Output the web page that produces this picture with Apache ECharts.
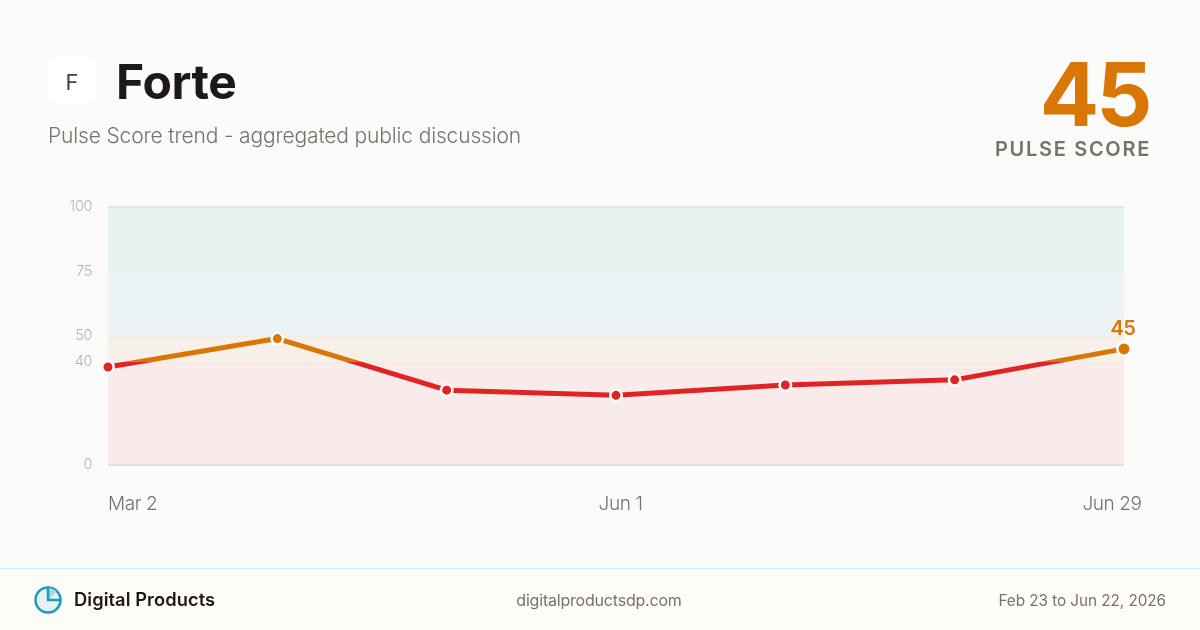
<!DOCTYPE html>
<html><head><meta charset="utf-8">
<style>html,body{margin:0;padding:0;background:#fbfbf9}#c{width:1200px;height:630px}</style>
<script src="https://cdn.jsdelivr.net/npm/echarts@6/dist/echarts.min.js"></script>
</head><body><div id="c"></div>
<script>
const categories = ['Mar 2','','','Jun 1','','','Jun 29'];
const pulseValues = [38,49,29,27,31,33,45];
const yTicks = [0,40,50,75,100];
const bands = [[0,40,'#f9ebe9'],[40,50,'#f7f0e8'],[50,75,'#ebf3f5'],[75,100,'#e6f2ee']];
const gridLines = [[40,'#f3e6e3',1],[50,'#efece6',1],[75,'#e6ecec',1],[100,'#e6e5e1',2],[0,'#e3e1de',2]];
const FONT = 'Inter';
const RED = '#e02424', ORANGE = '#d97706';
// tracking for the few strings the reference sets with letter-spacing
const tracking = {'PULSE SCORE':'1.7px','Pulse Score trend - aggregated public discussion':'-0.15px',
  'Digital Products':'0.07px','Feb 23 to Jun 22, 2026':'-0.05px','digitalproductsdp.com':'-0.2px','Forte':'-0.4px'};
const nativeFill = CanvasRenderingContext2D.prototype.fillText;
CanvasRenderingContext2D.prototype.fillText = function(t,x,y,m){
  const s = (t==='45' && this.font.indexOf('88px')>=0) ? '-3px' : tracking[t];
  if(s){const o=this.letterSpacing;this.letterSpacing=s;nativeFill.call(this,t,x,y);this.letterSpacing=o;}
  else if(m===undefined) nativeFill.call(this,t,x,y); else nativeFill.call(this,t,x,y,m);
};
const chart = echarts.init(document.getElementById('c'), null, {renderer:'canvas', width:1200, height:630});
function txt(text,x,y,size,weight,fill,align){
  return {type:'text',x,y,silent:true,style:{text,fontFamily:FONT,fontSize:size,fontWeight:weight,fill,align:align||'left',verticalAlign:'middle'}};
}
const lineData = pulseValues.map((v,i)=> i===pulseValues.length-1 ? {value:v,symbolSize:13.5} : v);
chart.setOption({
  backgroundColor:'#fbfbf9',
  animation:false,
  grid:{left:108,right:76,top:207,bottom:165},
  xAxis:{type:'category',boundaryGap:false,
    data:[
      {value:categories[0],textStyle:{align:'left'}},categories[1],categories[2],
      {value:categories[3],textStyle:{padding:[0,0,0,9]}},categories[4],categories[5],
      {value:categories[6],textStyle:{padding:[0,24,0,0]}}],
    axisLine:{show:false},axisTick:{show:false},splitLine:{show:false},
    axisLabel:{interval:0,margin:30,fontFamily:FONT,fontSize:19,fontWeight:300,color:'#78716c',showMinLabel:true,showMaxLabel:true}},
  yAxis:{type:'value',min:0,max:100,
    axisLine:{show:false},axisTick:{show:false},splitLine:{show:false},
    axisLabel:{customValues:yTicks,margin:16,fontFamily:FONT,fontSize:14.5,fontWeight:300,color:'#b5b2ae'}},
  visualMap:{show:false,type:'piecewise',seriesIndex:1,dimension:1,
    pieces:[{gte:0,lt:40,color:RED},{gte:40,lte:100,color:ORANGE}]},
  series:[
    {type:'line',data:[],z:1,silent:true,
      markArea:{silent:true,data:bands.map(b=>[{yAxis:b[0],itemStyle:{color:b[2]}},{yAxis:b[1]}])},
      markLine:{silent:true,symbol:'none',label:{show:false},
        data:gridLines.map(g=>({yAxis:g[0],lineStyle:{type:'solid',color:g[1],width:g[2]}}))}},
    {type:'line',data:lineData,z:5,clip:false,symbol:'circle',symbolSize:11.5,showSymbol:true,
      lineStyle:{width:5},
      itemStyle:{borderColor:'#ffffff',borderWidth:2.5},
      label:{show:true,position:'top',distance:2,offset:[-1,0],fontFamily:FONT,fontSize:20,fontWeight:600,color:ORANGE,
        formatter:p=>p.dataIndex===pulseValues.length-1?String(p.value):''}}
  ],
  graphic:[
    {type:'rect',silent:true,z:-1,shape:{x:0,y:569,width:1200,height:61},style:{fill:'#fdfcf8'}},
    {type:'rect',silent:true,z:-1,shape:{x:0,y:568,width:1200,height:1},style:{fill:'#c5f5fb'}},
    {type:'rect',silent:true,shape:{x:48,y:57,width:48,height:48,r:10},style:{fill:'#ffffff'}},
    txt('F',72,83,22,400,'#3f3f3f','center'),
    txt('Forte',116,85,48,650,'#1c1917'),
    txt('Pulse Score trend - aggregated public discussion',48,137,21,300,'#78716c'),
    txt('45',1149.5,100,88,700,ORANGE,'right'),
    txt('PULSE SCORE',1151,150,20,600,'#78716c','right'),
    {type:'circle',silent:true,shape:{cx:48,cy:600,r:12.5},style:{fill:'#e8f1f4',stroke:'#1a9bb8',lineWidth:2.5}},
    {type:'sector',silent:true,shape:{cx:48,cy:600,r:12,r0:0,startAngle:-Math.PI/2,endAngle:-Math.PI/4},style:{fill:'#a8d8e4'}},
    {type:'polyline',silent:true,shape:{points:[[48,587.5],[48,600],[60.5,600]]},style:{fill:'none',stroke:'#1a9bb8',lineWidth:2.5}},
    txt('Digital Products',74,601,18.3,600,'#1c1917'),
    txt('digitalproductsdp.com',599,601,16,400,'#78716c','center'),
    txt('Feb 23 to Jun 22, 2026',1166,601,15.3,400,'#78716c','right')
  ]
});
</script></body></html>
